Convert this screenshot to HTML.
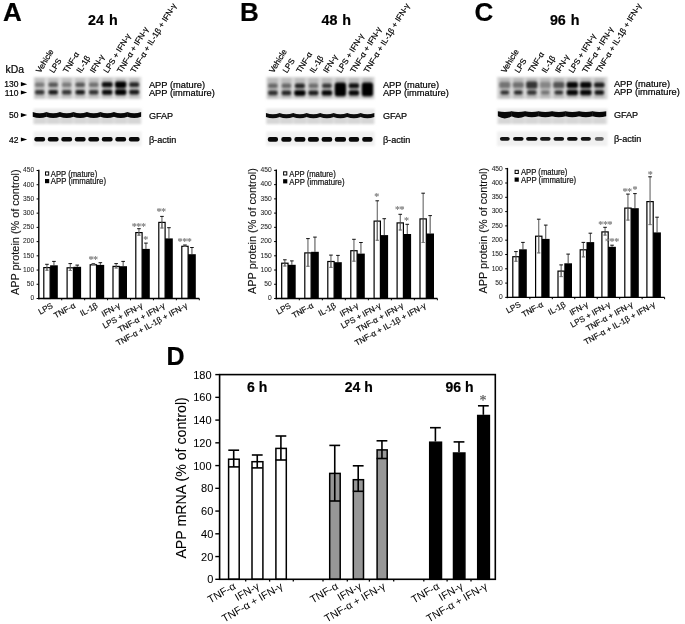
<!DOCTYPE html>
<html><head><meta charset="utf-8"><title>APP figure</title>
<style>
html,body{margin:0;padding:0;background:#fff;}
body{width:685px;height:624px;overflow:hidden;}
svg{display:block;}
</style></head><body>
<svg width="685" height="624" viewBox="0 0 685 624" font-family="Liberation Sans, Arial, Helvetica, sans-serif">
<defs>
<filter id="bl1" x="-20%" y="-50%" width="140%" height="200%"><feGaussianBlur stdDeviation="0.9"/></filter>
<filter id="bl2" x="-10%" y="-50%" width="120%" height="200%"><feGaussianBlur stdDeviation="1.3"/></filter>
<filter id="bl08" x="-20%" y="-20%" width="140%" height="140%"><feGaussianBlur stdDeviation="1.0"/></filter>
<filter id="bl06" x="-20%" y="-20%" width="140%" height="140%"><feGaussianBlur stdDeviation="0.6"/></filter>
</defs>
<rect width="685" height="624" fill="#fff"/>
<text x="40.30" y="73.60" font-size="8.1" transform="rotate(-58.5 40.30 73.60)" stroke="#000" stroke-width="0.2">Vehicle</text>
<text x="53.80" y="73.60" font-size="8.1" transform="rotate(-58.5 53.80 73.60)" stroke="#000" stroke-width="0.2">LPS</text>
<text x="67.30" y="73.60" font-size="8.1" transform="rotate(-58.5 67.30 73.60)" stroke="#000" stroke-width="0.2">TNF-&#945;</text>
<text x="80.80" y="73.60" font-size="8.1" transform="rotate(-58.5 80.80 73.60)" stroke="#000" stroke-width="0.2">IL-1&#946;</text>
<text x="94.30" y="73.60" font-size="8.1" transform="rotate(-58.5 94.30 73.60)" stroke="#000" stroke-width="0.2">IFN-&#947;</text>
<text x="107.80" y="73.60" font-size="8.1" transform="rotate(-58.5 107.80 73.60)" stroke="#000" stroke-width="0.2">LPS + IFN-&#947;</text>
<text x="121.30" y="73.60" font-size="8.1" transform="rotate(-58.5 121.30 73.60)" stroke="#000" stroke-width="0.2">TNF-&#945; + IFN-&#947;</text>
<text x="134.80" y="73.60" font-size="8.1" transform="rotate(-58.5 134.80 73.60)" stroke="#000" stroke-width="0.2">TNF-&#945; + IL-1&#946; + IFN-&#947;</text>
<g filter="url(#bl08)">
<rect x="33.60" y="76.90" width="107.90" height="22.20" fill="#dedede"/>
<rect x="33.60" y="108.60" width="107.90" height="15.60" fill="#e8e8e8"/>
<rect x="33.60" y="131.50" width="107.90" height="14.50" fill="#f0f0f0"/>
</g>
<g filter="url(#bl1)">
<rect x="34.80" y="78.00" width="9.80" height="20.30" fill="#000" opacity="0.13"/>
<rect x="33.40" y="117.50" width="12.60" height="6.50" fill="#000" opacity="0.08"/>
<rect x="48.30" y="78.00" width="9.80" height="20.30" fill="#000" opacity="0.13"/>
<rect x="46.90" y="117.50" width="12.60" height="6.50" fill="#000" opacity="0.08"/>
<rect x="61.80" y="78.00" width="9.80" height="20.30" fill="#000" opacity="0.13"/>
<rect x="60.40" y="117.50" width="12.60" height="6.50" fill="#000" opacity="0.08"/>
<rect x="75.30" y="78.00" width="9.80" height="20.30" fill="#000" opacity="0.13"/>
<rect x="73.90" y="117.50" width="12.60" height="6.50" fill="#000" opacity="0.08"/>
<rect x="88.80" y="78.00" width="9.80" height="20.30" fill="#000" opacity="0.13"/>
<rect x="87.40" y="117.50" width="12.60" height="6.50" fill="#000" opacity="0.08"/>
<rect x="102.30" y="78.00" width="9.80" height="20.30" fill="#000" opacity="0.13"/>
<rect x="100.90" y="117.50" width="12.60" height="6.50" fill="#000" opacity="0.08"/>
<rect x="115.80" y="78.00" width="9.80" height="20.30" fill="#000" opacity="0.13"/>
<rect x="114.40" y="117.50" width="12.60" height="6.50" fill="#000" opacity="0.08"/>
<rect x="129.30" y="78.00" width="9.80" height="20.30" fill="#000" opacity="0.13"/>
<rect x="127.90" y="117.50" width="12.60" height="6.50" fill="#000" opacity="0.08"/>
</g>
<g filter="url(#bl08)">
<rect x="35.00" y="82.40" width="9.40" height="4.60" rx="1.8" fill="#000" opacity="0.36"/>
<rect x="35.00" y="89.90" width="9.40" height="4.60" rx="1.8" fill="#000" opacity="0.72"/>
<rect x="48.50" y="82.40" width="9.40" height="4.60" rx="1.8" fill="#000" opacity="0.55"/>
<rect x="48.50" y="89.90" width="9.40" height="4.60" rx="1.8" fill="#000" opacity="0.86"/>
<rect x="62.00" y="82.40" width="9.40" height="4.60" rx="1.8" fill="#000" opacity="0.36"/>
<rect x="62.00" y="89.90" width="9.40" height="4.60" rx="1.8" fill="#000" opacity="0.72"/>
<rect x="75.50" y="82.40" width="9.40" height="4.60" rx="1.8" fill="#000" opacity="0.55"/>
<rect x="75.50" y="89.90" width="9.40" height="4.60" rx="1.8" fill="#000" opacity="0.86"/>
<rect x="89.00" y="82.40" width="9.40" height="4.60" rx="1.8" fill="#000" opacity="0.42"/>
<rect x="89.00" y="89.90" width="9.40" height="4.60" rx="1.8" fill="#000" opacity="0.74"/>
<rect x="101.80" y="82.06" width="10.81" height="5.29" rx="1.8" fill="#000" opacity="0.92"/>
<rect x="102.03" y="89.67" width="10.34" height="5.06" rx="1.8" fill="#000" opacity="0.95"/>
<rect x="115.06" y="81.48" width="11.28" height="6.44" rx="1.8" fill="#000" opacity="1.00"/>
<rect x="115.06" y="89.33" width="11.28" height="5.75" rx="1.8" fill="#000" opacity="1.00"/>
<rect x="129.26" y="82.28" width="9.87" height="4.83" rx="1.8" fill="#000" opacity="0.80"/>
<rect x="129.26" y="89.78" width="9.87" height="4.83" rx="1.8" fill="#000" opacity="0.88"/>
</g>
<g filter="url(#bl06)">
<path d="M32.75,112.10 Q39.70,114.50 46.65,112.10 L46.65,116.70 Q39.70,119.10 32.75,116.70 Z" fill="#000" opacity="0.97"/>
<rect x="34.30" y="137.10" width="10.80" height="4.40" rx="2" fill="#000" opacity="0.97"/>
<path d="M46.25,112.10 Q53.20,114.50 60.15,112.10 L60.15,116.70 Q53.20,119.10 46.25,116.70 Z" fill="#000" opacity="0.97"/>
<rect x="47.80" y="137.10" width="10.80" height="4.40" rx="2" fill="#000" opacity="0.97"/>
<path d="M59.75,112.10 Q66.70,114.50 73.65,112.10 L73.65,116.70 Q66.70,119.10 59.75,116.70 Z" fill="#000" opacity="0.97"/>
<rect x="61.30" y="137.10" width="10.80" height="4.40" rx="2" fill="#000" opacity="0.97"/>
<path d="M73.25,112.10 Q80.20,114.50 87.15,112.10 L87.15,116.70 Q80.20,119.10 73.25,116.70 Z" fill="#000" opacity="0.97"/>
<rect x="74.80" y="137.10" width="10.80" height="4.40" rx="2" fill="#000" opacity="0.97"/>
<path d="M86.75,112.10 Q93.70,114.50 100.65,112.10 L100.65,116.70 Q93.70,119.10 86.75,116.70 Z" fill="#000" opacity="0.97"/>
<rect x="88.30" y="137.10" width="10.80" height="4.40" rx="2" fill="#000" opacity="0.97"/>
<path d="M100.25,112.10 Q107.20,114.50 114.15,112.10 L114.15,116.70 Q107.20,119.10 100.25,116.70 Z" fill="#000" opacity="0.97"/>
<rect x="101.80" y="137.10" width="10.80" height="4.40" rx="2" fill="#000" opacity="0.97"/>
<path d="M113.75,112.10 Q120.70,114.50 127.65,112.10 L127.65,116.70 Q120.70,119.10 113.75,116.70 Z" fill="#000" opacity="0.97"/>
<rect x="115.30" y="137.10" width="10.80" height="4.40" rx="2" fill="#000" opacity="0.97"/>
<path d="M127.25,112.10 Q134.20,114.50 141.15,112.10 L141.15,116.70 Q134.20,119.10 127.25,116.70 Z" fill="#000" opacity="0.97"/>
<rect x="128.80" y="137.10" width="10.80" height="4.40" rx="2" fill="#000" opacity="0.97"/>
</g>
<text x="148.90" y="87.50" font-size="9.3" stroke="#000" stroke-width="0.2">APP (mature)</text>
<text x="148.90" y="96.20" font-size="9.3" stroke="#000" stroke-width="0.2">APP (immature)</text>
<text x="148.90" y="119.00" font-size="9.1" stroke="#000" stroke-width="0.2">GFAP</text>
<text x="148.90" y="142.60" font-size="9.1" stroke="#000" stroke-width="0.2">&#946;-actin</text>
<text x="3.00" y="20.80" font-size="26" font-weight="bold" stroke="#000" stroke-width="0.2">A</text>
<text x="102.90" y="24.50" font-size="14.3" font-weight="bold" text-anchor="middle" word-spacing="1" stroke="#000" stroke-width="0.2">24 h</text>
<text x="273.50" y="73.60" font-size="8.1" transform="rotate(-58.5 273.50 73.60)" stroke="#000" stroke-width="0.2">Vehicle</text>
<text x="287.00" y="73.60" font-size="8.1" transform="rotate(-58.5 287.00 73.60)" stroke="#000" stroke-width="0.2">LPS</text>
<text x="300.50" y="73.60" font-size="8.1" transform="rotate(-58.5 300.50 73.60)" stroke="#000" stroke-width="0.2">TNF-&#945;</text>
<text x="314.00" y="73.60" font-size="8.1" transform="rotate(-58.5 314.00 73.60)" stroke="#000" stroke-width="0.2">IL-1&#946;</text>
<text x="327.50" y="73.60" font-size="8.1" transform="rotate(-58.5 327.50 73.60)" stroke="#000" stroke-width="0.2">IFN-&#947;</text>
<text x="341.00" y="73.60" font-size="8.1" transform="rotate(-58.5 341.00 73.60)" stroke="#000" stroke-width="0.2">LPS + IFN-&#947;</text>
<text x="354.50" y="73.60" font-size="8.1" transform="rotate(-58.5 354.50 73.60)" stroke="#000" stroke-width="0.2">TNF-&#945; + IFN-&#947;</text>
<text x="368.00" y="73.60" font-size="8.1" transform="rotate(-58.5 368.00 73.60)" stroke="#000" stroke-width="0.2">TNF-&#945; + IL-1&#946; + IFN-&#947;</text>
<g filter="url(#bl08)">
<rect x="266.20" y="76.90" width="108.50" height="22.20" fill="#d8d8d8"/>
<rect x="266.20" y="108.60" width="108.50" height="15.60" fill="#e8e8e8"/>
<rect x="266.20" y="131.50" width="108.50" height="14.50" fill="#f0f0f0"/>
</g>
<g filter="url(#bl1)">
<rect x="268.00" y="78.00" width="9.80" height="20.30" fill="#000" opacity="0.13"/>
<rect x="266.60" y="117.50" width="12.60" height="6.50" fill="#000" opacity="0.08"/>
<rect x="281.50" y="78.00" width="9.80" height="20.30" fill="#000" opacity="0.13"/>
<rect x="280.10" y="117.50" width="12.60" height="6.50" fill="#000" opacity="0.08"/>
<rect x="295.00" y="78.00" width="9.80" height="20.30" fill="#000" opacity="0.13"/>
<rect x="293.60" y="117.50" width="12.60" height="6.50" fill="#000" opacity="0.08"/>
<rect x="308.50" y="78.00" width="9.80" height="20.30" fill="#000" opacity="0.13"/>
<rect x="307.10" y="117.50" width="12.60" height="6.50" fill="#000" opacity="0.08"/>
<rect x="322.00" y="78.00" width="9.80" height="20.30" fill="#000" opacity="0.13"/>
<rect x="320.60" y="117.50" width="12.60" height="6.50" fill="#000" opacity="0.08"/>
<rect x="335.50" y="78.00" width="9.80" height="20.30" fill="#000" opacity="0.13"/>
<rect x="334.10" y="117.50" width="12.60" height="6.50" fill="#000" opacity="0.08"/>
<rect x="349.00" y="78.00" width="9.80" height="20.30" fill="#000" opacity="0.13"/>
<rect x="347.60" y="117.50" width="12.60" height="6.50" fill="#000" opacity="0.08"/>
<rect x="362.50" y="78.00" width="9.80" height="20.30" fill="#000" opacity="0.13"/>
<rect x="361.10" y="117.50" width="12.60" height="6.50" fill="#000" opacity="0.08"/>
</g>
<g filter="url(#bl08)">
<rect x="268.20" y="83.50" width="9.40" height="4.60" rx="1.8" fill="#000" opacity="0.45"/>
<rect x="268.20" y="90.60" width="9.40" height="4.60" rx="1.8" fill="#000" opacity="0.75"/>
<rect x="281.70" y="83.50" width="9.40" height="4.60" rx="1.8" fill="#000" opacity="0.45"/>
<rect x="281.70" y="90.60" width="9.40" height="4.60" rx="1.8" fill="#000" opacity="0.80"/>
<rect x="294.96" y="83.38" width="9.87" height="4.83" rx="1.8" fill="#000" opacity="0.80"/>
<rect x="294.26" y="90.14" width="11.28" height="5.52" rx="1.8" fill="#000" opacity="1.00"/>
<rect x="308.70" y="83.50" width="9.40" height="4.60" rx="1.8" fill="#000" opacity="0.42"/>
<rect x="308.46" y="90.48" width="9.87" height="4.83" rx="1.8" fill="#000" opacity="0.85"/>
<rect x="322.20" y="83.50" width="9.40" height="4.60" rx="1.8" fill="#000" opacity="0.70"/>
<rect x="321.73" y="90.37" width="10.34" height="5.06" rx="1.8" fill="#000" opacity="0.97"/>
<rect x="334.76" y="82.40" width="11.28" height="13.90" rx="2.5" fill="#000" opacity="1.00"/>
<rect x="348.73" y="83.27" width="10.34" height="5.06" rx="1.8" fill="#000" opacity="0.92"/>
<rect x="348.73" y="90.37" width="10.34" height="5.06" rx="1.8" fill="#000" opacity="0.97"/>
<rect x="361.76" y="82.40" width="11.28" height="13.90" rx="2.5" fill="#000" opacity="1.00"/>
</g>
<g filter="url(#bl06)">
<path d="M265.95,113.00 Q272.90,115.40 279.85,113.00 L279.85,117.10 Q272.90,119.50 265.95,117.10 Z" fill="#000" opacity="0.95"/>
<rect x="267.80" y="137.00" width="10.20" height="4.80" rx="2" fill="#000" opacity="0.97"/>
<path d="M279.45,113.00 Q286.40,115.40 293.35,113.00 L293.35,117.10 Q286.40,119.50 279.45,117.10 Z" fill="#000" opacity="0.95"/>
<rect x="281.30" y="137.00" width="10.20" height="4.80" rx="2" fill="#000" opacity="0.97"/>
<path d="M292.95,113.00 Q299.90,115.40 306.85,113.00 L306.85,117.10 Q299.90,119.50 292.95,117.10 Z" fill="#000" opacity="0.95"/>
<rect x="294.40" y="137.00" width="11.00" height="4.80" rx="2" fill="#000" opacity="0.97"/>
<path d="M306.45,113.00 Q313.40,115.40 320.35,113.00 L320.35,117.10 Q313.40,119.50 306.45,117.10 Z" fill="#000" opacity="0.95"/>
<rect x="307.90" y="137.00" width="11.00" height="4.80" rx="2" fill="#000" opacity="0.97"/>
<path d="M319.95,113.00 Q326.90,115.40 333.85,113.00 L333.85,117.10 Q326.90,119.50 319.95,117.10 Z" fill="#000" opacity="0.95"/>
<rect x="321.60" y="137.00" width="10.60" height="4.80" rx="2" fill="#000" opacity="0.97"/>
<path d="M333.45,113.00 Q340.40,115.40 347.35,113.00 L347.35,117.10 Q340.40,119.50 333.45,117.10 Z" fill="#000" opacity="0.95"/>
<rect x="334.80" y="137.00" width="11.20" height="4.80" rx="2" fill="#000" opacity="0.97"/>
<path d="M346.95,113.00 Q353.90,115.40 360.85,113.00 L360.85,117.10 Q353.90,119.50 346.95,117.10 Z" fill="#000" opacity="0.95"/>
<rect x="348.70" y="137.00" width="10.40" height="4.80" rx="2" fill="#000" opacity="0.97"/>
<path d="M360.45,113.00 Q367.40,115.40 374.35,113.00 L374.35,117.10 Q367.40,119.50 360.45,117.10 Z" fill="#000" opacity="0.95"/>
<rect x="362.20" y="137.00" width="10.40" height="4.80" rx="2" fill="#000" opacity="0.97"/>
</g>
<text x="382.90" y="87.50" font-size="9.3" stroke="#000" stroke-width="0.2">APP (mature)</text>
<text x="382.90" y="96.20" font-size="9.3" stroke="#000" stroke-width="0.2">APP (immature)</text>
<text x="382.90" y="119.00" font-size="9.1" stroke="#000" stroke-width="0.2">GFAP</text>
<text x="382.90" y="142.60" font-size="9.1" stroke="#000" stroke-width="0.2">&#946;-actin</text>
<text x="240.00" y="20.80" font-size="26" font-weight="bold" stroke="#000" stroke-width="0.2">B</text>
<text x="336.30" y="24.50" font-size="14.3" font-weight="bold" text-anchor="middle" word-spacing="1" stroke="#000" stroke-width="0.2">48 h</text>
<text x="505.40" y="73.60" font-size="8.1" transform="rotate(-58.5 505.40 73.60)" stroke="#000" stroke-width="0.2">Vehicle</text>
<text x="518.90" y="73.60" font-size="8.1" transform="rotate(-58.5 518.90 73.60)" stroke="#000" stroke-width="0.2">LPS</text>
<text x="532.40" y="73.60" font-size="8.1" transform="rotate(-58.5 532.40 73.60)" stroke="#000" stroke-width="0.2">TNF-&#945;</text>
<text x="545.90" y="73.60" font-size="8.1" transform="rotate(-58.5 545.90 73.60)" stroke="#000" stroke-width="0.2">IL-1&#946;</text>
<text x="559.40" y="73.60" font-size="8.1" transform="rotate(-58.5 559.40 73.60)" stroke="#000" stroke-width="0.2">IFN-&#947;</text>
<text x="572.90" y="73.60" font-size="8.1" transform="rotate(-58.5 572.90 73.60)" stroke="#000" stroke-width="0.2">LPS + IFN-&#947;</text>
<text x="586.40" y="73.60" font-size="8.1" transform="rotate(-58.5 586.40 73.60)" stroke="#000" stroke-width="0.2">TNF-&#945; + IFN-&#947;</text>
<text x="599.90" y="73.60" font-size="8.1" transform="rotate(-58.5 599.90 73.60)" stroke="#000" stroke-width="0.2">TNF-&#945; + IL-1&#946; + IFN-&#947;</text>
<g filter="url(#bl08)">
<rect x="497.00" y="76.90" width="110.50" height="22.20" fill="#d6d6d6"/>
<rect x="497.00" y="108.60" width="110.50" height="15.60" fill="#e8e8e8"/>
<rect x="497.00" y="131.50" width="110.50" height="14.50" fill="#f0f0f0"/>
</g>
<g filter="url(#bl1)">
<rect x="499.90" y="78.00" width="9.80" height="20.30" fill="#000" opacity="0.13"/>
<rect x="498.50" y="117.50" width="12.60" height="6.50" fill="#000" opacity="0.08"/>
<rect x="513.40" y="78.00" width="9.80" height="20.30" fill="#000" opacity="0.13"/>
<rect x="512.00" y="117.50" width="12.60" height="6.50" fill="#000" opacity="0.08"/>
<rect x="526.90" y="78.00" width="9.80" height="20.30" fill="#000" opacity="0.13"/>
<rect x="525.50" y="117.50" width="12.60" height="6.50" fill="#000" opacity="0.08"/>
<rect x="540.40" y="78.00" width="9.80" height="20.30" fill="#000" opacity="0.13"/>
<rect x="539.00" y="117.50" width="12.60" height="6.50" fill="#000" opacity="0.08"/>
<rect x="553.90" y="78.00" width="9.80" height="20.30" fill="#000" opacity="0.13"/>
<rect x="552.50" y="117.50" width="12.60" height="6.50" fill="#000" opacity="0.08"/>
<rect x="567.40" y="78.00" width="9.80" height="20.30" fill="#000" opacity="0.13"/>
<rect x="566.00" y="117.50" width="12.60" height="6.50" fill="#000" opacity="0.08"/>
<rect x="580.90" y="78.00" width="9.80" height="20.30" fill="#000" opacity="0.13"/>
<rect x="579.50" y="117.50" width="12.60" height="6.50" fill="#000" opacity="0.08"/>
<rect x="594.40" y="78.00" width="9.80" height="20.30" fill="#000" opacity="0.13"/>
<rect x="593.00" y="117.50" width="12.60" height="6.50" fill="#000" opacity="0.08"/>
</g>
<g filter="url(#bl08)">
<rect x="499.16" y="82.01" width="11.28" height="5.98" rx="1.8" fill="#000" opacity="0.38"/>
<rect x="500.57" y="90.43" width="8.46" height="4.14" rx="1.8" fill="#000" opacity="0.75"/>
<rect x="512.66" y="82.24" width="11.28" height="5.52" rx="1.8" fill="#000" opacity="0.40"/>
<rect x="514.07" y="90.43" width="8.46" height="4.14" rx="1.8" fill="#000" opacity="0.80"/>
<rect x="526.16" y="81.55" width="11.28" height="6.90" rx="1.8" fill="#000" opacity="0.72"/>
<rect x="527.10" y="90.20" width="9.40" height="4.60" rx="1.8" fill="#000" opacity="0.72"/>
<rect x="539.66" y="82.01" width="11.28" height="5.98" rx="1.8" fill="#000" opacity="0.28"/>
<rect x="541.07" y="90.43" width="8.46" height="4.14" rx="1.8" fill="#000" opacity="0.38"/>
<rect x="553.16" y="82.01" width="11.28" height="5.98" rx="1.8" fill="#000" opacity="0.55"/>
<rect x="554.57" y="90.43" width="8.46" height="4.14" rx="1.8" fill="#000" opacity="0.75"/>
<rect x="566.66" y="82.01" width="11.28" height="5.98" rx="1.8" fill="#000" opacity="0.97"/>
<rect x="566.66" y="89.74" width="11.28" height="5.52" rx="1.8" fill="#000" opacity="0.97"/>
<rect x="580.16" y="82.01" width="11.28" height="5.98" rx="1.8" fill="#000" opacity="0.97"/>
<rect x="580.16" y="89.74" width="11.28" height="5.52" rx="1.8" fill="#000" opacity="0.97"/>
<rect x="594.13" y="82.47" width="10.34" height="5.06" rx="1.8" fill="#000" opacity="0.85"/>
<rect x="594.60" y="90.20" width="9.40" height="4.60" rx="1.8" fill="#000" opacity="0.90"/>
</g>
<g filter="url(#bl06)">
<path d="M497.85,111.30 Q504.80,112.90 511.75,111.30 L511.75,116.30 Q504.80,120.50 497.85,116.30 Z" fill="#000" opacity="0.97"/>
<rect x="499.90" y="136.90" width="9.80" height="3.80" rx="2" fill="#000" opacity="0.92"/>
<path d="M511.35,111.30 Q518.30,112.90 525.25,111.30 L525.25,116.30 Q518.30,119.70 511.35,116.30 Z" fill="#000" opacity="0.97"/>
<rect x="513.00" y="136.90" width="10.60" height="3.80" rx="2" fill="#000" opacity="0.95"/>
<path d="M524.85,111.30 Q531.80,112.90 538.75,111.30 L538.75,116.30 Q531.80,118.10 524.85,116.30 Z" fill="#000" opacity="0.97"/>
<rect x="526.10" y="136.90" width="11.40" height="3.80" rx="2" fill="#000" opacity="0.95"/>
<path d="M538.35,111.30 Q545.30,112.90 552.25,111.30 L552.25,116.30 Q545.30,118.10 538.35,116.30 Z" fill="#000" opacity="0.97"/>
<rect x="540.00" y="136.90" width="10.60" height="3.80" rx="2" fill="#000" opacity="0.90"/>
<path d="M551.85,111.30 Q558.80,112.90 565.75,111.30 L565.75,116.30 Q558.80,118.10 551.85,116.30 Z" fill="#000" opacity="0.97"/>
<rect x="553.50" y="136.90" width="10.60" height="3.80" rx="2" fill="#000" opacity="0.92"/>
<path d="M565.35,111.30 Q572.30,112.90 579.25,111.30 L579.25,116.30 Q572.30,118.10 565.35,116.30 Z" fill="#000" opacity="0.97"/>
<rect x="567.00" y="136.90" width="10.60" height="3.80" rx="2" fill="#000" opacity="0.95"/>
<path d="M578.85,111.30 Q585.80,112.90 592.75,111.30 L592.75,116.30 Q585.80,118.10 578.85,116.30 Z" fill="#000" opacity="0.97"/>
<rect x="580.70" y="136.90" width="10.20" height="3.80" rx="2" fill="#000" opacity="0.92"/>
<path d="M592.35,111.30 Q599.30,112.90 606.25,111.30 L606.25,116.30 Q599.30,118.10 592.35,116.30 Z" fill="#000" opacity="0.97"/>
<rect x="594.80" y="136.90" width="9.00" height="3.80" rx="2" fill="#000" opacity="0.60"/>
</g>
<text x="613.90" y="86.50" font-size="9.3" stroke="#000" stroke-width="0.2">APP (mature)</text>
<text x="613.90" y="95.20" font-size="9.3" stroke="#000" stroke-width="0.2">APP (immature)</text>
<text x="613.90" y="118.00" font-size="9.1" stroke="#000" stroke-width="0.2">GFAP</text>
<text x="613.90" y="141.60" font-size="9.1" stroke="#000" stroke-width="0.2">&#946;-actin</text>
<text x="474.40" y="20.80" font-size="26" font-weight="bold" stroke="#000" stroke-width="0.2">C</text>
<text x="564.70" y="24.50" font-size="14.3" font-weight="bold" text-anchor="middle" word-spacing="1" stroke="#000" stroke-width="0.2">96 h</text>
<text x="5.60" y="72.70" font-size="10.4" stroke="#000" stroke-width="0.2">kDa</text>
<text x="18.40" y="87.20" font-size="8.5" text-anchor="end" stroke="#000" stroke-width="0.2">130</text>
<polygon points="20.90,82.10 27.20,84.20 20.90,86.30" fill="#000"/>
<text x="18.40" y="95.50" font-size="8.5" text-anchor="end" stroke="#000" stroke-width="0.2">110</text>
<polygon points="20.90,90.40 27.20,92.50 20.90,94.60" fill="#000"/>
<text x="18.40" y="118.10" font-size="8.5" text-anchor="end" stroke="#000" stroke-width="0.2">50</text>
<polygon points="20.90,113.00 27.20,115.10 20.90,117.20" fill="#000"/>
<text x="18.40" y="142.50" font-size="8.5" text-anchor="end" stroke="#000" stroke-width="0.2">42</text>
<polygon points="20.90,137.40 27.20,139.50 20.90,141.60" fill="#000"/>
<line x1="46.95" y1="264.30" x2="46.95" y2="270.30" stroke="#444" stroke-width="0.9"/>
<line x1="45.15" y1="264.30" x2="48.75" y2="264.30" stroke="#111" stroke-width="1.0"/>
<line x1="45.45" y1="270.30" x2="48.45" y2="270.30" stroke="#777" stroke-width="0.9"/>
<rect x="43.80" y="267.60" width="6.30" height="30.90" fill="none" stroke="#000" stroke-width="1.2"/>
<line x1="46.95" y1="267.00" x2="46.95" y2="270.30" stroke="#666" stroke-width="0.9"/>
<line x1="45.45" y1="270.30" x2="48.45" y2="270.30" stroke="#777" stroke-width="0.9"/>
<line x1="53.95" y1="261.40" x2="53.95" y2="265.30" stroke="#333" stroke-width="0.9"/>
<line x1="52.15" y1="261.40" x2="55.75" y2="261.40" stroke="#111" stroke-width="1.0"/>
<rect x="50.10" y="265.30" width="7.70" height="33.20" fill="#000"/>
<line x1="70.25" y1="263.60" x2="70.25" y2="270.50" stroke="#444" stroke-width="0.9"/>
<line x1="68.45" y1="263.60" x2="72.05" y2="263.60" stroke="#111" stroke-width="1.0"/>
<line x1="68.75" y1="270.50" x2="71.75" y2="270.50" stroke="#777" stroke-width="0.9"/>
<rect x="67.10" y="267.80" width="6.30" height="30.70" fill="none" stroke="#000" stroke-width="1.2"/>
<line x1="70.25" y1="267.20" x2="70.25" y2="270.50" stroke="#666" stroke-width="0.9"/>
<line x1="68.75" y1="270.50" x2="71.75" y2="270.50" stroke="#777" stroke-width="0.9"/>
<line x1="77.25" y1="265.10" x2="77.25" y2="266.80" stroke="#333" stroke-width="0.9"/>
<line x1="75.45" y1="265.10" x2="79.05" y2="265.10" stroke="#111" stroke-width="1.0"/>
<rect x="73.40" y="266.80" width="7.70" height="31.70" fill="#000"/>
<line x1="93.35" y1="263.80" x2="93.35" y2="264.60" stroke="#444" stroke-width="0.9"/>
<line x1="91.55" y1="263.80" x2="95.15" y2="263.80" stroke="#111" stroke-width="1.0"/>
<line x1="91.85" y1="264.60" x2="94.85" y2="264.60" stroke="#777" stroke-width="0.9"/>
<rect x="90.20" y="264.80" width="6.30" height="33.70" fill="none" stroke="#000" stroke-width="1.2"/>
<line x1="93.35" y1="264.20" x2="93.35" y2="264.60" stroke="#666" stroke-width="0.9"/>
<line x1="91.85" y1="264.60" x2="94.85" y2="264.60" stroke="#777" stroke-width="0.9"/>
<line x1="100.35" y1="262.70" x2="100.35" y2="264.90" stroke="#333" stroke-width="0.9"/>
<line x1="98.55" y1="262.70" x2="102.15" y2="262.70" stroke="#111" stroke-width="1.0"/>
<rect x="96.50" y="264.90" width="7.70" height="33.60" fill="#000"/>
<line x1="116.15" y1="263.60" x2="116.15" y2="268.00" stroke="#444" stroke-width="0.9"/>
<line x1="114.35" y1="263.60" x2="117.95" y2="263.60" stroke="#111" stroke-width="1.0"/>
<line x1="114.65" y1="268.00" x2="117.65" y2="268.00" stroke="#777" stroke-width="0.9"/>
<rect x="113.00" y="266.40" width="6.30" height="32.10" fill="none" stroke="#000" stroke-width="1.2"/>
<line x1="116.15" y1="265.80" x2="116.15" y2="268.00" stroke="#666" stroke-width="0.9"/>
<line x1="114.65" y1="268.00" x2="117.65" y2="268.00" stroke="#777" stroke-width="0.9"/>
<line x1="123.15" y1="261.40" x2="123.15" y2="266.20" stroke="#333" stroke-width="0.9"/>
<line x1="121.35" y1="261.40" x2="124.95" y2="261.40" stroke="#111" stroke-width="1.0"/>
<rect x="119.30" y="266.20" width="7.70" height="32.30" fill="#000"/>
<line x1="138.95" y1="228.70" x2="138.95" y2="235.20" stroke="#444" stroke-width="0.9"/>
<line x1="137.15" y1="228.70" x2="140.75" y2="228.70" stroke="#111" stroke-width="1.0"/>
<line x1="137.45" y1="235.20" x2="140.45" y2="235.20" stroke="#777" stroke-width="0.9"/>
<rect x="135.80" y="232.60" width="6.30" height="65.90" fill="none" stroke="#000" stroke-width="1.2"/>
<line x1="138.95" y1="232.00" x2="138.95" y2="235.20" stroke="#666" stroke-width="0.9"/>
<line x1="137.45" y1="235.20" x2="140.45" y2="235.20" stroke="#777" stroke-width="0.9"/>
<line x1="145.95" y1="243.10" x2="145.95" y2="248.90" stroke="#333" stroke-width="0.9"/>
<line x1="144.15" y1="243.10" x2="147.75" y2="243.10" stroke="#111" stroke-width="1.0"/>
<rect x="142.10" y="248.90" width="7.70" height="49.60" fill="#000"/>
<line x1="161.95" y1="216.40" x2="161.95" y2="228.00" stroke="#444" stroke-width="0.9"/>
<line x1="160.15" y1="216.40" x2="163.75" y2="216.40" stroke="#111" stroke-width="1.0"/>
<line x1="160.45" y1="228.00" x2="163.45" y2="228.00" stroke="#777" stroke-width="0.9"/>
<rect x="158.80" y="222.40" width="6.30" height="76.10" fill="none" stroke="#000" stroke-width="1.2"/>
<line x1="161.95" y1="221.80" x2="161.95" y2="228.00" stroke="#666" stroke-width="0.9"/>
<line x1="160.45" y1="228.00" x2="163.45" y2="228.00" stroke="#777" stroke-width="0.9"/>
<line x1="168.95" y1="227.70" x2="168.95" y2="238.40" stroke="#333" stroke-width="0.9"/>
<line x1="167.15" y1="227.70" x2="170.75" y2="227.70" stroke="#111" stroke-width="1.0"/>
<rect x="165.10" y="238.40" width="7.70" height="60.10" fill="#000"/>
<line x1="184.95" y1="245.00" x2="184.95" y2="246.40" stroke="#444" stroke-width="0.9"/>
<line x1="183.15" y1="245.00" x2="186.75" y2="245.00" stroke="#111" stroke-width="1.0"/>
<line x1="183.45" y1="246.40" x2="186.45" y2="246.40" stroke="#777" stroke-width="0.9"/>
<rect x="181.80" y="246.30" width="6.30" height="52.20" fill="none" stroke="#000" stroke-width="1.2"/>
<line x1="184.95" y1="245.70" x2="184.95" y2="246.40" stroke="#666" stroke-width="0.9"/>
<line x1="183.45" y1="246.40" x2="186.45" y2="246.40" stroke="#777" stroke-width="0.9"/>
<line x1="191.95" y1="247.50" x2="191.95" y2="254.20" stroke="#333" stroke-width="0.9"/>
<line x1="190.15" y1="247.50" x2="193.75" y2="247.50" stroke="#111" stroke-width="1.0"/>
<rect x="188.10" y="254.20" width="7.70" height="44.30" fill="#000"/>
<line x1="38.80" y1="169.70" x2="38.80" y2="299.30" stroke="#000" stroke-width="1.4"/>
<line x1="38.10" y1="298.50" x2="199.30" y2="298.50" stroke="#000" stroke-width="1.4"/>
<line x1="36.60" y1="298.50" x2="38.80" y2="298.50" stroke="#000" stroke-width="1.0"/>
<text x="34.20" y="300.30" font-size="7.5" text-anchor="end" fill="#222" textLength="3.72" lengthAdjust="spacingAndGlyphs" stroke="#222" stroke-width="0.05">0</text>
<line x1="36.60" y1="284.28" x2="38.80" y2="284.28" stroke="#000" stroke-width="1.0"/>
<text x="34.20" y="286.08" font-size="7.5" text-anchor="end" fill="#222" textLength="7.44" lengthAdjust="spacingAndGlyphs" stroke="#222" stroke-width="0.05">50</text>
<line x1="36.60" y1="270.06" x2="38.80" y2="270.06" stroke="#000" stroke-width="1.0"/>
<text x="34.20" y="271.86" font-size="7.5" text-anchor="end" fill="#222" textLength="11.16" lengthAdjust="spacingAndGlyphs" stroke="#222" stroke-width="0.05">100</text>
<line x1="36.60" y1="255.83" x2="38.80" y2="255.83" stroke="#000" stroke-width="1.0"/>
<text x="34.20" y="257.63" font-size="7.5" text-anchor="end" fill="#222" textLength="11.16" lengthAdjust="spacingAndGlyphs" stroke="#222" stroke-width="0.05">150</text>
<line x1="36.60" y1="241.61" x2="38.80" y2="241.61" stroke="#000" stroke-width="1.0"/>
<text x="34.20" y="243.41" font-size="7.5" text-anchor="end" fill="#222" textLength="11.16" lengthAdjust="spacingAndGlyphs" stroke="#222" stroke-width="0.05">200</text>
<line x1="36.60" y1="227.39" x2="38.80" y2="227.39" stroke="#000" stroke-width="1.0"/>
<text x="34.20" y="229.19" font-size="7.5" text-anchor="end" fill="#222" textLength="11.16" lengthAdjust="spacingAndGlyphs" stroke="#222" stroke-width="0.05">250</text>
<line x1="36.60" y1="213.17" x2="38.80" y2="213.17" stroke="#000" stroke-width="1.0"/>
<text x="34.20" y="214.97" font-size="7.5" text-anchor="end" fill="#222" textLength="11.16" lengthAdjust="spacingAndGlyphs" stroke="#222" stroke-width="0.05">300</text>
<line x1="36.60" y1="198.94" x2="38.80" y2="198.94" stroke="#000" stroke-width="1.0"/>
<text x="34.20" y="200.74" font-size="7.5" text-anchor="end" fill="#222" textLength="11.16" lengthAdjust="spacingAndGlyphs" stroke="#222" stroke-width="0.05">350</text>
<line x1="36.60" y1="184.72" x2="38.80" y2="184.72" stroke="#000" stroke-width="1.0"/>
<text x="34.20" y="186.52" font-size="7.5" text-anchor="end" fill="#222" textLength="11.16" lengthAdjust="spacingAndGlyphs" stroke="#222" stroke-width="0.05">400</text>
<line x1="36.60" y1="170.50" x2="38.80" y2="170.50" stroke="#000" stroke-width="1.0"/>
<text x="34.20" y="172.30" font-size="7.5" text-anchor="end" fill="#222" textLength="11.16" lengthAdjust="spacingAndGlyphs" stroke="#222" stroke-width="0.05">450</text>
<line x1="61.73" y1="298.50" x2="61.73" y2="300.30" stroke="#000" stroke-width="1.0"/>
<line x1="84.66" y1="298.50" x2="84.66" y2="300.30" stroke="#000" stroke-width="1.0"/>
<line x1="107.59" y1="298.50" x2="107.59" y2="300.30" stroke="#000" stroke-width="1.0"/>
<line x1="130.51" y1="298.50" x2="130.51" y2="300.30" stroke="#000" stroke-width="1.0"/>
<line x1="153.44" y1="298.50" x2="153.44" y2="300.30" stroke="#000" stroke-width="1.0"/>
<line x1="176.37" y1="298.50" x2="176.37" y2="300.30" stroke="#000" stroke-width="1.0"/>
<line x1="199.30" y1="298.50" x2="199.30" y2="300.30" stroke="#000" stroke-width="1.0"/>
<text x="53.60" y="307.30" font-size="8.1" text-anchor="end" fill="#111" transform="rotate(-29 53.60 307.30)" stroke="#111" stroke-width="0.2">LPS</text>
<text x="76.00" y="307.30" font-size="8.1" text-anchor="end" fill="#111" transform="rotate(-29 76.00 307.30)" stroke="#111" stroke-width="0.2">TNF-&#945;</text>
<text x="98.40" y="307.30" font-size="8.1" text-anchor="end" fill="#111" transform="rotate(-29 98.40 307.30)" stroke="#111" stroke-width="0.2">IL-1&#946;</text>
<text x="120.80" y="307.30" font-size="8.1" text-anchor="end" fill="#111" transform="rotate(-29 120.80 307.30)" stroke="#111" stroke-width="0.2">IFN-&#947;</text>
<text x="143.20" y="307.30" font-size="8.1" text-anchor="end" fill="#111" transform="rotate(-29 143.20 307.30)" stroke="#111" stroke-width="0.2">LPS + IFN-&#947;</text>
<text x="165.60" y="307.30" font-size="8.1" text-anchor="end" fill="#111" transform="rotate(-29 165.60 307.30)" stroke="#111" stroke-width="0.2">TNF-&#945; + IFN-&#947;</text>
<text x="188.00" y="307.30" font-size="8.1" text-anchor="end" fill="#111" transform="rotate(-29 188.00 307.30)" stroke="#111" stroke-width="0.2">TNF-&#945; + IL-1&#946; + IFN-&#947;</text>
<text x="93.00" y="263.20" font-size="10.0" text-anchor="middle" fill="#7a7a7a" font-family="Liberation Serif, Times New Roman, serif" letter-spacing="-0.4" stroke="#7a7a7a" stroke-width="0.15">**</text>
<text x="138.60" y="229.80" font-size="10.0" text-anchor="middle" fill="#7a7a7a" font-family="Liberation Serif, Times New Roman, serif" letter-spacing="-0.4" stroke="#7a7a7a" stroke-width="0.15">***</text>
<text x="145.50" y="242.70" font-size="10.0" text-anchor="middle" fill="#7a7a7a" font-family="Liberation Serif, Times New Roman, serif" letter-spacing="-0.4" stroke="#7a7a7a" stroke-width="0.15">*</text>
<text x="161.00" y="214.90" font-size="10.0" text-anchor="middle" fill="#7a7a7a" font-family="Liberation Serif, Times New Roman, serif" letter-spacing="-0.4" stroke="#7a7a7a" stroke-width="0.15">**</text>
<text x="184.50" y="244.90" font-size="10.0" text-anchor="middle" fill="#7a7a7a" font-family="Liberation Serif, Times New Roman, serif" letter-spacing="-0.4" stroke="#7a7a7a" stroke-width="0.15">***</text>
<rect x="45.50" y="171.90" width="3.20" height="3.20" fill="#fff" stroke="#000" stroke-width="1.0"/>
<rect x="45.00" y="179.00" width="4.20" height="4.20" fill="#000"/>
<text x="50.80" y="176.70" font-size="8.2" fill="#111" textLength="46.4" lengthAdjust="spacingAndGlyphs" stroke="#111" stroke-width="0.2">APP (mature)</text>
<text x="50.80" y="184.30" font-size="8.2" fill="#111" textLength="55.2" lengthAdjust="spacingAndGlyphs" stroke="#111" stroke-width="0.2">APP (immature)</text>
<text x="19.00" y="232.20" font-size="10.9" text-anchor="middle" fill="#111" transform="rotate(-90 19.00 232.20)" stroke="#111" stroke-width="0.1">APP protein (% of control)</text>
<line x1="284.85" y1="259.80" x2="284.85" y2="266.00" stroke="#444" stroke-width="0.9"/>
<line x1="283.05" y1="259.80" x2="286.65" y2="259.80" stroke="#111" stroke-width="1.0"/>
<line x1="283.35" y1="266.00" x2="286.35" y2="266.00" stroke="#777" stroke-width="0.9"/>
<rect x="281.70" y="263.20" width="6.30" height="35.30" fill="none" stroke="#000" stroke-width="1.2"/>
<line x1="284.85" y1="262.60" x2="284.85" y2="266.00" stroke="#666" stroke-width="0.9"/>
<line x1="283.35" y1="266.00" x2="286.35" y2="266.00" stroke="#777" stroke-width="0.9"/>
<line x1="291.85" y1="260.90" x2="291.85" y2="264.80" stroke="#333" stroke-width="0.9"/>
<line x1="290.05" y1="260.90" x2="293.65" y2="260.90" stroke="#111" stroke-width="1.0"/>
<rect x="288.00" y="264.80" width="7.70" height="33.70" fill="#000"/>
<line x1="307.95" y1="238.60" x2="307.95" y2="266.30" stroke="#444" stroke-width="0.9"/>
<line x1="306.15" y1="238.60" x2="309.75" y2="238.60" stroke="#111" stroke-width="1.0"/>
<line x1="306.45" y1="266.30" x2="309.45" y2="266.30" stroke="#777" stroke-width="0.9"/>
<rect x="304.80" y="252.90" width="6.30" height="45.60" fill="none" stroke="#000" stroke-width="1.2"/>
<line x1="307.95" y1="252.30" x2="307.95" y2="266.30" stroke="#666" stroke-width="0.9"/>
<line x1="306.45" y1="266.30" x2="309.45" y2="266.30" stroke="#777" stroke-width="0.9"/>
<line x1="314.95" y1="237.10" x2="314.95" y2="251.80" stroke="#333" stroke-width="0.9"/>
<line x1="313.15" y1="237.10" x2="316.75" y2="237.10" stroke="#111" stroke-width="1.0"/>
<rect x="311.10" y="251.80" width="7.70" height="46.70" fill="#000"/>
<line x1="330.95" y1="255.10" x2="330.95" y2="267.40" stroke="#444" stroke-width="0.9"/>
<line x1="329.15" y1="255.10" x2="332.75" y2="255.10" stroke="#111" stroke-width="1.0"/>
<line x1="329.45" y1="267.40" x2="332.45" y2="267.40" stroke="#777" stroke-width="0.9"/>
<rect x="327.80" y="261.50" width="6.30" height="37.00" fill="none" stroke="#000" stroke-width="1.2"/>
<line x1="330.95" y1="260.90" x2="330.95" y2="267.40" stroke="#666" stroke-width="0.9"/>
<line x1="329.45" y1="267.40" x2="332.45" y2="267.40" stroke="#777" stroke-width="0.9"/>
<line x1="337.95" y1="255.40" x2="337.95" y2="262.20" stroke="#333" stroke-width="0.9"/>
<line x1="336.15" y1="255.40" x2="339.75" y2="255.40" stroke="#111" stroke-width="1.0"/>
<rect x="334.10" y="262.20" width="7.70" height="36.30" fill="#000"/>
<line x1="353.95" y1="239.30" x2="353.95" y2="261.20" stroke="#444" stroke-width="0.9"/>
<line x1="352.15" y1="239.30" x2="355.75" y2="239.30" stroke="#111" stroke-width="1.0"/>
<line x1="352.45" y1="261.20" x2="355.45" y2="261.20" stroke="#777" stroke-width="0.9"/>
<rect x="350.80" y="250.70" width="6.30" height="47.80" fill="none" stroke="#000" stroke-width="1.2"/>
<line x1="353.95" y1="250.10" x2="353.95" y2="261.20" stroke="#666" stroke-width="0.9"/>
<line x1="352.45" y1="261.20" x2="355.45" y2="261.20" stroke="#777" stroke-width="0.9"/>
<line x1="360.95" y1="242.50" x2="360.95" y2="253.60" stroke="#333" stroke-width="0.9"/>
<line x1="359.15" y1="242.50" x2="362.75" y2="242.50" stroke="#111" stroke-width="1.0"/>
<rect x="357.10" y="253.60" width="7.70" height="44.90" fill="#000"/>
<line x1="377.25" y1="200.80" x2="377.25" y2="240.30" stroke="#444" stroke-width="0.9"/>
<line x1="375.45" y1="200.80" x2="379.05" y2="200.80" stroke="#111" stroke-width="1.0"/>
<line x1="375.75" y1="240.30" x2="378.75" y2="240.30" stroke="#777" stroke-width="0.9"/>
<rect x="374.10" y="221.10" width="6.30" height="77.40" fill="none" stroke="#000" stroke-width="1.2"/>
<line x1="377.25" y1="220.50" x2="377.25" y2="240.30" stroke="#666" stroke-width="0.9"/>
<line x1="375.75" y1="240.30" x2="378.75" y2="240.30" stroke="#777" stroke-width="0.9"/>
<line x1="384.25" y1="218.70" x2="384.25" y2="235.10" stroke="#333" stroke-width="0.9"/>
<line x1="382.45" y1="218.70" x2="386.05" y2="218.70" stroke="#111" stroke-width="1.0"/>
<rect x="380.40" y="235.10" width="7.70" height="63.40" fill="#000"/>
<line x1="400.25" y1="214.30" x2="400.25" y2="230.00" stroke="#444" stroke-width="0.9"/>
<line x1="398.45" y1="214.30" x2="402.05" y2="214.30" stroke="#111" stroke-width="1.0"/>
<line x1="398.75" y1="230.00" x2="401.75" y2="230.00" stroke="#777" stroke-width="0.9"/>
<rect x="397.10" y="222.90" width="6.30" height="75.60" fill="none" stroke="#000" stroke-width="1.2"/>
<line x1="400.25" y1="222.30" x2="400.25" y2="230.00" stroke="#666" stroke-width="0.9"/>
<line x1="398.75" y1="230.00" x2="401.75" y2="230.00" stroke="#777" stroke-width="0.9"/>
<line x1="407.25" y1="224.30" x2="407.25" y2="234.00" stroke="#333" stroke-width="0.9"/>
<line x1="405.45" y1="224.30" x2="409.05" y2="224.30" stroke="#111" stroke-width="1.0"/>
<rect x="403.40" y="234.00" width="7.70" height="64.50" fill="#000"/>
<line x1="423.15" y1="193.20" x2="423.15" y2="242.50" stroke="#444" stroke-width="0.9"/>
<line x1="421.35" y1="193.20" x2="424.95" y2="193.20" stroke="#111" stroke-width="1.0"/>
<line x1="421.65" y1="242.50" x2="424.65" y2="242.50" stroke="#777" stroke-width="0.9"/>
<rect x="420.00" y="218.90" width="6.30" height="79.60" fill="none" stroke="#000" stroke-width="1.2"/>
<line x1="423.15" y1="218.30" x2="423.15" y2="242.50" stroke="#666" stroke-width="0.9"/>
<line x1="421.65" y1="242.50" x2="424.65" y2="242.50" stroke="#777" stroke-width="0.9"/>
<line x1="430.15" y1="215.60" x2="430.15" y2="233.50" stroke="#333" stroke-width="0.9"/>
<line x1="428.35" y1="215.60" x2="431.95" y2="215.60" stroke="#111" stroke-width="1.0"/>
<rect x="426.30" y="233.50" width="7.70" height="65.00" fill="#000"/>
<line x1="276.30" y1="169.60" x2="276.30" y2="299.30" stroke="#000" stroke-width="1.4"/>
<line x1="275.60" y1="298.50" x2="437.40" y2="298.50" stroke="#000" stroke-width="1.4"/>
<line x1="274.10" y1="298.50" x2="276.30" y2="298.50" stroke="#000" stroke-width="1.0"/>
<text x="271.70" y="300.30" font-size="7.5" text-anchor="end" fill="#222" textLength="3.72" lengthAdjust="spacingAndGlyphs" stroke="#222" stroke-width="0.05">0</text>
<line x1="274.10" y1="284.27" x2="276.30" y2="284.27" stroke="#000" stroke-width="1.0"/>
<text x="271.70" y="286.07" font-size="7.5" text-anchor="end" fill="#222" textLength="7.44" lengthAdjust="spacingAndGlyphs" stroke="#222" stroke-width="0.05">50</text>
<line x1="274.10" y1="270.03" x2="276.30" y2="270.03" stroke="#000" stroke-width="1.0"/>
<text x="271.70" y="271.83" font-size="7.5" text-anchor="end" fill="#222" textLength="11.16" lengthAdjust="spacingAndGlyphs" stroke="#222" stroke-width="0.05">100</text>
<line x1="274.10" y1="255.80" x2="276.30" y2="255.80" stroke="#000" stroke-width="1.0"/>
<text x="271.70" y="257.60" font-size="7.5" text-anchor="end" fill="#222" textLength="11.16" lengthAdjust="spacingAndGlyphs" stroke="#222" stroke-width="0.05">150</text>
<line x1="274.10" y1="241.57" x2="276.30" y2="241.57" stroke="#000" stroke-width="1.0"/>
<text x="271.70" y="243.37" font-size="7.5" text-anchor="end" fill="#222" textLength="11.16" lengthAdjust="spacingAndGlyphs" stroke="#222" stroke-width="0.05">200</text>
<line x1="274.10" y1="227.33" x2="276.30" y2="227.33" stroke="#000" stroke-width="1.0"/>
<text x="271.70" y="229.13" font-size="7.5" text-anchor="end" fill="#222" textLength="11.16" lengthAdjust="spacingAndGlyphs" stroke="#222" stroke-width="0.05">250</text>
<line x1="274.10" y1="213.10" x2="276.30" y2="213.10" stroke="#000" stroke-width="1.0"/>
<text x="271.70" y="214.90" font-size="7.5" text-anchor="end" fill="#222" textLength="11.16" lengthAdjust="spacingAndGlyphs" stroke="#222" stroke-width="0.05">300</text>
<line x1="274.10" y1="198.87" x2="276.30" y2="198.87" stroke="#000" stroke-width="1.0"/>
<text x="271.70" y="200.67" font-size="7.5" text-anchor="end" fill="#222" textLength="11.16" lengthAdjust="spacingAndGlyphs" stroke="#222" stroke-width="0.05">350</text>
<line x1="274.10" y1="184.63" x2="276.30" y2="184.63" stroke="#000" stroke-width="1.0"/>
<text x="271.70" y="186.43" font-size="7.5" text-anchor="end" fill="#222" textLength="11.16" lengthAdjust="spacingAndGlyphs" stroke="#222" stroke-width="0.05">400</text>
<line x1="274.10" y1="170.40" x2="276.30" y2="170.40" stroke="#000" stroke-width="1.0"/>
<text x="271.70" y="172.20" font-size="7.5" text-anchor="end" fill="#222" textLength="11.16" lengthAdjust="spacingAndGlyphs" stroke="#222" stroke-width="0.05">450</text>
<line x1="299.31" y1="298.50" x2="299.31" y2="300.30" stroke="#000" stroke-width="1.0"/>
<line x1="322.33" y1="298.50" x2="322.33" y2="300.30" stroke="#000" stroke-width="1.0"/>
<line x1="345.34" y1="298.50" x2="345.34" y2="300.30" stroke="#000" stroke-width="1.0"/>
<line x1="368.36" y1="298.50" x2="368.36" y2="300.30" stroke="#000" stroke-width="1.0"/>
<line x1="391.37" y1="298.50" x2="391.37" y2="300.30" stroke="#000" stroke-width="1.0"/>
<line x1="414.39" y1="298.50" x2="414.39" y2="300.30" stroke="#000" stroke-width="1.0"/>
<line x1="437.40" y1="298.50" x2="437.40" y2="300.30" stroke="#000" stroke-width="1.0"/>
<text x="291.60" y="307.30" font-size="8.1" text-anchor="end" fill="#111" transform="rotate(-29 291.60 307.30)" stroke="#111" stroke-width="0.2">LPS</text>
<text x="314.10" y="307.30" font-size="8.1" text-anchor="end" fill="#111" transform="rotate(-29 314.10 307.30)" stroke="#111" stroke-width="0.2">TNF-&#945;</text>
<text x="336.60" y="307.30" font-size="8.1" text-anchor="end" fill="#111" transform="rotate(-29 336.60 307.30)" stroke="#111" stroke-width="0.2">IL-1&#946;</text>
<text x="359.10" y="307.30" font-size="8.1" text-anchor="end" fill="#111" transform="rotate(-29 359.10 307.30)" stroke="#111" stroke-width="0.2">IFN-&#947;</text>
<text x="381.60" y="307.30" font-size="8.1" text-anchor="end" fill="#111" transform="rotate(-29 381.60 307.30)" stroke="#111" stroke-width="0.2">LPS + IFN-&#947;</text>
<text x="404.10" y="307.30" font-size="8.1" text-anchor="end" fill="#111" transform="rotate(-29 404.10 307.30)" stroke="#111" stroke-width="0.2">TNF-&#945; + IFN-&#947;</text>
<text x="426.60" y="307.30" font-size="8.1" text-anchor="end" fill="#111" transform="rotate(-29 426.60 307.30)" stroke="#111" stroke-width="0.2">TNF-&#945; + IL-1&#946; + IFN-&#947;</text>
<text x="376.60" y="200.10" font-size="10.0" text-anchor="middle" fill="#7a7a7a" font-family="Liberation Serif, Times New Roman, serif" letter-spacing="-0.4" stroke="#7a7a7a" stroke-width="0.15">*</text>
<text x="399.50" y="212.90" font-size="10.0" text-anchor="middle" fill="#7a7a7a" font-family="Liberation Serif, Times New Roman, serif" letter-spacing="-0.4" stroke="#7a7a7a" stroke-width="0.15">**</text>
<text x="406.40" y="224.10" font-size="10.0" text-anchor="middle" fill="#7a7a7a" font-family="Liberation Serif, Times New Roman, serif" letter-spacing="-0.4" stroke="#7a7a7a" stroke-width="0.15">*</text>
<rect x="283.60" y="171.80" width="3.20" height="3.20" fill="#fff" stroke="#000" stroke-width="1.0"/>
<rect x="283.10" y="179.20" width="4.20" height="4.20" fill="#000"/>
<text x="289.30" y="176.60" font-size="8.2" fill="#111" textLength="46.4" lengthAdjust="spacingAndGlyphs" stroke="#111" stroke-width="0.2">APP (mature)</text>
<text x="289.30" y="184.50" font-size="8.2" fill="#111" textLength="55.2" lengthAdjust="spacingAndGlyphs" stroke="#111" stroke-width="0.2">APP (immature)</text>
<text x="256.50" y="231.05" font-size="10.9" text-anchor="middle" fill="#111" transform="rotate(-90 256.50 231.05)" stroke="#111" stroke-width="0.1">APP protein (% of control)</text>
<line x1="515.95" y1="251.60" x2="515.95" y2="261.30" stroke="#444" stroke-width="0.9"/>
<line x1="514.15" y1="251.60" x2="517.75" y2="251.60" stroke="#111" stroke-width="1.0"/>
<line x1="514.45" y1="261.30" x2="517.45" y2="261.30" stroke="#777" stroke-width="0.9"/>
<rect x="512.80" y="256.70" width="6.30" height="40.70" fill="none" stroke="#000" stroke-width="1.2"/>
<line x1="515.95" y1="256.10" x2="515.95" y2="261.30" stroke="#666" stroke-width="0.9"/>
<line x1="514.45" y1="261.30" x2="517.45" y2="261.30" stroke="#777" stroke-width="0.9"/>
<line x1="522.95" y1="242.40" x2="522.95" y2="249.30" stroke="#333" stroke-width="0.9"/>
<line x1="521.15" y1="242.40" x2="524.75" y2="242.40" stroke="#111" stroke-width="1.0"/>
<rect x="519.10" y="249.30" width="7.70" height="48.10" fill="#000"/>
<line x1="538.75" y1="219.20" x2="538.75" y2="252.90" stroke="#444" stroke-width="0.9"/>
<line x1="536.95" y1="219.20" x2="540.55" y2="219.20" stroke="#111" stroke-width="1.0"/>
<line x1="537.25" y1="252.90" x2="540.25" y2="252.90" stroke="#777" stroke-width="0.9"/>
<rect x="535.60" y="236.20" width="6.30" height="61.20" fill="none" stroke="#000" stroke-width="1.2"/>
<line x1="538.75" y1="235.60" x2="538.75" y2="252.90" stroke="#666" stroke-width="0.9"/>
<line x1="537.25" y1="252.90" x2="540.25" y2="252.90" stroke="#777" stroke-width="0.9"/>
<line x1="545.75" y1="225.10" x2="545.75" y2="238.90" stroke="#333" stroke-width="0.9"/>
<line x1="543.95" y1="225.10" x2="547.55" y2="225.10" stroke="#111" stroke-width="1.0"/>
<rect x="541.90" y="238.90" width="7.70" height="58.50" fill="#000"/>
<line x1="561.15" y1="264.90" x2="561.15" y2="276.60" stroke="#444" stroke-width="0.9"/>
<line x1="559.35" y1="264.90" x2="562.95" y2="264.90" stroke="#111" stroke-width="1.0"/>
<line x1="559.65" y1="276.60" x2="562.65" y2="276.60" stroke="#777" stroke-width="0.9"/>
<rect x="558.00" y="271.10" width="6.30" height="26.30" fill="none" stroke="#000" stroke-width="1.2"/>
<line x1="561.15" y1="270.50" x2="561.15" y2="276.60" stroke="#666" stroke-width="0.9"/>
<line x1="559.65" y1="276.60" x2="562.65" y2="276.60" stroke="#777" stroke-width="0.9"/>
<line x1="568.15" y1="254.10" x2="568.15" y2="263.30" stroke="#333" stroke-width="0.9"/>
<line x1="566.35" y1="254.10" x2="569.95" y2="254.10" stroke="#111" stroke-width="1.0"/>
<rect x="564.30" y="263.30" width="7.70" height="34.10" fill="#000"/>
<line x1="583.35" y1="242.40" x2="583.35" y2="256.90" stroke="#444" stroke-width="0.9"/>
<line x1="581.55" y1="242.40" x2="585.15" y2="242.40" stroke="#111" stroke-width="1.0"/>
<line x1="581.85" y1="256.90" x2="584.85" y2="256.90" stroke="#777" stroke-width="0.9"/>
<rect x="580.20" y="249.80" width="6.30" height="47.60" fill="none" stroke="#000" stroke-width="1.2"/>
<line x1="583.35" y1="249.20" x2="583.35" y2="256.90" stroke="#666" stroke-width="0.9"/>
<line x1="581.85" y1="256.90" x2="584.85" y2="256.90" stroke="#777" stroke-width="0.9"/>
<line x1="590.35" y1="233.20" x2="590.35" y2="242.10" stroke="#333" stroke-width="0.9"/>
<line x1="588.55" y1="233.20" x2="592.15" y2="233.20" stroke="#111" stroke-width="1.0"/>
<rect x="586.50" y="242.10" width="7.70" height="55.30" fill="#000"/>
<line x1="605.05" y1="227.30" x2="605.05" y2="235.10" stroke="#444" stroke-width="0.9"/>
<line x1="603.25" y1="227.30" x2="606.85" y2="227.30" stroke="#111" stroke-width="1.0"/>
<line x1="603.55" y1="235.10" x2="606.55" y2="235.10" stroke="#777" stroke-width="0.9"/>
<rect x="601.90" y="231.90" width="6.30" height="65.50" fill="none" stroke="#000" stroke-width="1.2"/>
<line x1="605.05" y1="231.30" x2="605.05" y2="235.10" stroke="#666" stroke-width="0.9"/>
<line x1="603.55" y1="235.10" x2="606.55" y2="235.10" stroke="#777" stroke-width="0.9"/>
<line x1="612.05" y1="245.20" x2="612.05" y2="246.80" stroke="#333" stroke-width="0.9"/>
<line x1="610.25" y1="245.20" x2="613.85" y2="245.20" stroke="#111" stroke-width="1.0"/>
<rect x="608.20" y="246.80" width="7.70" height="50.60" fill="#000"/>
<line x1="627.95" y1="194.10" x2="627.95" y2="220.10" stroke="#444" stroke-width="0.9"/>
<line x1="626.15" y1="194.10" x2="629.75" y2="194.10" stroke="#111" stroke-width="1.0"/>
<line x1="626.45" y1="220.10" x2="629.45" y2="220.10" stroke="#777" stroke-width="0.9"/>
<rect x="624.80" y="208.10" width="6.30" height="89.30" fill="none" stroke="#000" stroke-width="1.2"/>
<line x1="627.95" y1="207.50" x2="627.95" y2="220.10" stroke="#666" stroke-width="0.9"/>
<line x1="626.45" y1="220.10" x2="629.45" y2="220.10" stroke="#777" stroke-width="0.9"/>
<line x1="634.95" y1="193.60" x2="634.95" y2="208.20" stroke="#333" stroke-width="0.9"/>
<line x1="633.15" y1="193.60" x2="636.75" y2="193.60" stroke="#111" stroke-width="1.0"/>
<rect x="631.10" y="208.20" width="7.70" height="89.20" fill="#000"/>
<line x1="650.05" y1="176.80" x2="650.05" y2="224.60" stroke="#444" stroke-width="0.9"/>
<line x1="648.25" y1="176.80" x2="651.85" y2="176.80" stroke="#111" stroke-width="1.0"/>
<line x1="648.55" y1="224.60" x2="651.55" y2="224.60" stroke="#777" stroke-width="0.9"/>
<rect x="646.90" y="201.60" width="6.30" height="95.80" fill="none" stroke="#000" stroke-width="1.2"/>
<line x1="650.05" y1="201.00" x2="650.05" y2="224.60" stroke="#666" stroke-width="0.9"/>
<line x1="648.55" y1="224.60" x2="651.55" y2="224.60" stroke="#777" stroke-width="0.9"/>
<line x1="657.05" y1="217.20" x2="657.05" y2="232.40" stroke="#333" stroke-width="0.9"/>
<line x1="655.25" y1="217.20" x2="658.85" y2="217.20" stroke="#111" stroke-width="1.0"/>
<rect x="653.20" y="232.40" width="7.70" height="65.00" fill="#000"/>
<line x1="507.40" y1="167.90" x2="507.40" y2="298.20" stroke="#000" stroke-width="1.4"/>
<line x1="506.70" y1="297.40" x2="664.60" y2="297.40" stroke="#000" stroke-width="1.4"/>
<line x1="505.20" y1="297.40" x2="507.40" y2="297.40" stroke="#000" stroke-width="1.0"/>
<text x="502.80" y="299.20" font-size="7.5" text-anchor="end" fill="#222" textLength="3.72" lengthAdjust="spacingAndGlyphs" stroke="#222" stroke-width="0.05">0</text>
<line x1="505.20" y1="283.10" x2="507.40" y2="283.10" stroke="#000" stroke-width="1.0"/>
<text x="502.80" y="284.90" font-size="7.5" text-anchor="end" fill="#222" textLength="7.44" lengthAdjust="spacingAndGlyphs" stroke="#222" stroke-width="0.05">50</text>
<line x1="505.20" y1="268.80" x2="507.40" y2="268.80" stroke="#000" stroke-width="1.0"/>
<text x="502.80" y="270.60" font-size="7.5" text-anchor="end" fill="#222" textLength="11.16" lengthAdjust="spacingAndGlyphs" stroke="#222" stroke-width="0.05">100</text>
<line x1="505.20" y1="254.50" x2="507.40" y2="254.50" stroke="#000" stroke-width="1.0"/>
<text x="502.80" y="256.30" font-size="7.5" text-anchor="end" fill="#222" textLength="11.16" lengthAdjust="spacingAndGlyphs" stroke="#222" stroke-width="0.05">150</text>
<line x1="505.20" y1="240.20" x2="507.40" y2="240.20" stroke="#000" stroke-width="1.0"/>
<text x="502.80" y="242.00" font-size="7.5" text-anchor="end" fill="#222" textLength="11.16" lengthAdjust="spacingAndGlyphs" stroke="#222" stroke-width="0.05">200</text>
<line x1="505.20" y1="225.90" x2="507.40" y2="225.90" stroke="#000" stroke-width="1.0"/>
<text x="502.80" y="227.70" font-size="7.5" text-anchor="end" fill="#222" textLength="11.16" lengthAdjust="spacingAndGlyphs" stroke="#222" stroke-width="0.05">250</text>
<line x1="505.20" y1="211.60" x2="507.40" y2="211.60" stroke="#000" stroke-width="1.0"/>
<text x="502.80" y="213.40" font-size="7.5" text-anchor="end" fill="#222" textLength="11.16" lengthAdjust="spacingAndGlyphs" stroke="#222" stroke-width="0.05">300</text>
<line x1="505.20" y1="197.30" x2="507.40" y2="197.30" stroke="#000" stroke-width="1.0"/>
<text x="502.80" y="199.10" font-size="7.5" text-anchor="end" fill="#222" textLength="11.16" lengthAdjust="spacingAndGlyphs" stroke="#222" stroke-width="0.05">350</text>
<line x1="505.20" y1="183.00" x2="507.40" y2="183.00" stroke="#000" stroke-width="1.0"/>
<text x="502.80" y="184.80" font-size="7.5" text-anchor="end" fill="#222" textLength="11.16" lengthAdjust="spacingAndGlyphs" stroke="#222" stroke-width="0.05">400</text>
<line x1="505.20" y1="168.70" x2="507.40" y2="168.70" stroke="#000" stroke-width="1.0"/>
<text x="502.80" y="170.50" font-size="7.5" text-anchor="end" fill="#222" textLength="11.16" lengthAdjust="spacingAndGlyphs" stroke="#222" stroke-width="0.05">450</text>
<line x1="529.86" y1="297.40" x2="529.86" y2="299.20" stroke="#000" stroke-width="1.0"/>
<line x1="552.31" y1="297.40" x2="552.31" y2="299.20" stroke="#000" stroke-width="1.0"/>
<line x1="574.77" y1="297.40" x2="574.77" y2="299.20" stroke="#000" stroke-width="1.0"/>
<line x1="597.23" y1="297.40" x2="597.23" y2="299.20" stroke="#000" stroke-width="1.0"/>
<line x1="619.69" y1="297.40" x2="619.69" y2="299.20" stroke="#000" stroke-width="1.0"/>
<line x1="642.14" y1="297.40" x2="642.14" y2="299.20" stroke="#000" stroke-width="1.0"/>
<line x1="664.60" y1="297.40" x2="664.60" y2="299.20" stroke="#000" stroke-width="1.0"/>
<text x="521.50" y="306.20" font-size="8.1" text-anchor="end" fill="#111" transform="rotate(-29 521.50 306.20)" stroke="#111" stroke-width="0.2">LPS</text>
<text x="543.90" y="306.20" font-size="8.1" text-anchor="end" fill="#111" transform="rotate(-29 543.90 306.20)" stroke="#111" stroke-width="0.2">TNF-&#945;</text>
<text x="566.30" y="306.20" font-size="8.1" text-anchor="end" fill="#111" transform="rotate(-29 566.30 306.20)" stroke="#111" stroke-width="0.2">IL-1&#946;</text>
<text x="588.70" y="306.20" font-size="8.1" text-anchor="end" fill="#111" transform="rotate(-29 588.70 306.20)" stroke="#111" stroke-width="0.2">IFN-&#947;</text>
<text x="611.10" y="306.20" font-size="8.1" text-anchor="end" fill="#111" transform="rotate(-29 611.10 306.20)" stroke="#111" stroke-width="0.2">LPS + IFN-&#947;</text>
<text x="633.50" y="306.20" font-size="8.1" text-anchor="end" fill="#111" transform="rotate(-29 633.50 306.20)" stroke="#111" stroke-width="0.2">TNF-&#945; + IFN-&#947;</text>
<text x="655.90" y="306.20" font-size="8.1" text-anchor="end" fill="#111" transform="rotate(-29 655.90 306.20)" stroke="#111" stroke-width="0.2">TNF-&#945; + IL-1&#946; + IFN-&#947;</text>
<text x="605.20" y="227.90" font-size="10.0" text-anchor="middle" fill="#7a7a7a" font-family="Liberation Serif, Times New Roman, serif" letter-spacing="-0.4" stroke="#7a7a7a" stroke-width="0.15">***</text>
<text x="611.90" y="244.70" font-size="10.0" text-anchor="middle" fill="#7a7a7a" font-family="Liberation Serif, Times New Roman, serif" letter-spacing="-0.4" stroke="#7a7a7a" stroke-width="0.15">***</text>
<text x="627.00" y="195.00" font-size="10.0" text-anchor="middle" fill="#7a7a7a" font-family="Liberation Serif, Times New Roman, serif" letter-spacing="-0.4" stroke="#7a7a7a" stroke-width="0.15">**</text>
<text x="634.80" y="193.40" font-size="10.0" text-anchor="middle" fill="#7a7a7a" font-family="Liberation Serif, Times New Roman, serif" letter-spacing="-0.4" stroke="#7a7a7a" stroke-width="0.15">*</text>
<text x="650.00" y="177.70" font-size="10.0" text-anchor="middle" fill="#7a7a7a" font-family="Liberation Serif, Times New Roman, serif" letter-spacing="-0.4" stroke="#7a7a7a" stroke-width="0.15">*</text>
<rect x="515.10" y="170.30" width="3.20" height="3.20" fill="#fff" stroke="#000" stroke-width="1.0"/>
<rect x="514.60" y="177.50" width="4.20" height="4.20" fill="#000"/>
<text x="521.00" y="175.10" font-size="8.2" fill="#111" textLength="46.4" lengthAdjust="spacingAndGlyphs" stroke="#111" stroke-width="0.2">APP (mature)</text>
<text x="521.00" y="182.80" font-size="8.2" fill="#111" textLength="55.2" lengthAdjust="spacingAndGlyphs" stroke="#111" stroke-width="0.2">APP (immature)</text>
<text x="486.80" y="230.75" font-size="10.9" text-anchor="middle" fill="#111" transform="rotate(-90 486.80 230.75)" stroke="#111" stroke-width="0.1">APP protein (% of control)</text>
<text x="166.40" y="364.80" font-size="25" font-weight="bold" stroke="#000" stroke-width="0.2">D</text>
<line x1="233.70" y1="450.20" x2="233.70" y2="466.90" stroke="#000" stroke-width="1.6"/>
<line x1="228.30" y1="450.20" x2="239.10" y2="450.20" stroke="#000" stroke-width="1.6"/>
<rect x="228.60" y="459.20" width="10.60" height="120.10" fill="#fff" stroke="#000" stroke-width="1.5"/>
<line x1="233.70" y1="458.50" x2="233.70" y2="466.90" stroke="#000" stroke-width="1.6"/>
<line x1="228.30" y1="466.90" x2="239.10" y2="466.90" stroke="#000" stroke-width="1.6"/>
<line x1="257.25" y1="455.00" x2="257.25" y2="467.90" stroke="#000" stroke-width="1.6"/>
<line x1="251.85" y1="455.00" x2="262.65" y2="455.00" stroke="#000" stroke-width="1.6"/>
<rect x="252.00" y="461.70" width="10.90" height="117.60" fill="#fff" stroke="#000" stroke-width="1.5"/>
<line x1="257.25" y1="461.00" x2="257.25" y2="467.90" stroke="#000" stroke-width="1.6"/>
<line x1="251.85" y1="467.90" x2="262.65" y2="467.90" stroke="#000" stroke-width="1.6"/>
<line x1="280.90" y1="436.00" x2="280.90" y2="460.00" stroke="#000" stroke-width="1.6"/>
<line x1="275.50" y1="436.00" x2="286.30" y2="436.00" stroke="#000" stroke-width="1.6"/>
<rect x="275.90" y="448.40" width="10.40" height="130.90" fill="#fff" stroke="#000" stroke-width="1.5"/>
<line x1="280.90" y1="447.70" x2="280.90" y2="460.00" stroke="#000" stroke-width="1.6"/>
<line x1="275.50" y1="460.00" x2="286.30" y2="460.00" stroke="#000" stroke-width="1.6"/>
<line x1="334.75" y1="445.40" x2="334.75" y2="501.00" stroke="#000" stroke-width="1.6"/>
<line x1="329.35" y1="445.40" x2="340.15" y2="445.40" stroke="#000" stroke-width="1.6"/>
<rect x="329.70" y="473.40" width="10.50" height="105.90" fill="#979797" stroke="#000" stroke-width="1.5"/>
<line x1="334.75" y1="472.70" x2="334.75" y2="501.00" stroke="#000" stroke-width="1.6"/>
<line x1="329.35" y1="501.00" x2="340.15" y2="501.00" stroke="#000" stroke-width="1.6"/>
<line x1="358.20" y1="465.80" x2="358.20" y2="491.30" stroke="#000" stroke-width="1.6"/>
<line x1="352.80" y1="465.80" x2="363.60" y2="465.80" stroke="#000" stroke-width="1.6"/>
<rect x="353.30" y="479.70" width="10.20" height="99.60" fill="#979797" stroke="#000" stroke-width="1.5"/>
<line x1="358.20" y1="479.00" x2="358.20" y2="491.30" stroke="#000" stroke-width="1.6"/>
<line x1="352.80" y1="491.30" x2="363.60" y2="491.30" stroke="#000" stroke-width="1.6"/>
<line x1="381.95" y1="440.80" x2="381.95" y2="458.50" stroke="#000" stroke-width="1.6"/>
<line x1="376.55" y1="440.80" x2="387.35" y2="440.80" stroke="#000" stroke-width="1.6"/>
<rect x="377.10" y="449.90" width="10.10" height="129.40" fill="#979797" stroke="#000" stroke-width="1.5"/>
<line x1="381.95" y1="449.20" x2="381.95" y2="458.50" stroke="#000" stroke-width="1.6"/>
<line x1="376.55" y1="458.50" x2="387.35" y2="458.50" stroke="#000" stroke-width="1.6"/>
<line x1="435.40" y1="427.70" x2="435.40" y2="441.50" stroke="#000" stroke-width="1.6"/>
<line x1="430.00" y1="427.70" x2="440.80" y2="427.70" stroke="#000" stroke-width="1.6"/>
<rect x="429.70" y="442.20" width="11.80" height="137.10" fill="#000" stroke="#000" stroke-width="1.5"/>
<line x1="459.00" y1="441.90" x2="459.00" y2="452.30" stroke="#000" stroke-width="1.6"/>
<line x1="453.60" y1="441.90" x2="464.40" y2="441.90" stroke="#000" stroke-width="1.6"/>
<rect x="453.50" y="453.00" width="11.40" height="126.30" fill="#000" stroke="#000" stroke-width="1.5"/>
<line x1="483.35" y1="405.80" x2="483.35" y2="414.80" stroke="#000" stroke-width="1.6"/>
<line x1="477.95" y1="405.80" x2="488.75" y2="405.80" stroke="#000" stroke-width="1.6"/>
<rect x="477.70" y="415.50" width="11.70" height="163.80" fill="#000" stroke="#000" stroke-width="1.5"/>
<rect x="219.60" y="374.60" width="275.70" height="204.70" fill="none" stroke="#000" stroke-width="1.6"/>
<line x1="215.30" y1="579.30" x2="219.60" y2="579.30" stroke="#000" stroke-width="1.4"/>
<text x="213.30" y="583.40" font-size="11" text-anchor="end" stroke="#000" stroke-width="0.05">0</text>
<line x1="215.30" y1="556.56" x2="219.60" y2="556.56" stroke="#000" stroke-width="1.4"/>
<text x="213.30" y="560.66" font-size="11" text-anchor="end" stroke="#000" stroke-width="0.05">20</text>
<line x1="215.30" y1="533.81" x2="219.60" y2="533.81" stroke="#000" stroke-width="1.4"/>
<text x="213.30" y="537.91" font-size="11" text-anchor="end" stroke="#000" stroke-width="0.05">40</text>
<line x1="215.30" y1="511.07" x2="219.60" y2="511.07" stroke="#000" stroke-width="1.4"/>
<text x="213.30" y="515.17" font-size="11" text-anchor="end" stroke="#000" stroke-width="0.05">60</text>
<line x1="215.30" y1="488.32" x2="219.60" y2="488.32" stroke="#000" stroke-width="1.4"/>
<text x="213.30" y="492.42" font-size="11" text-anchor="end" stroke="#000" stroke-width="0.05">80</text>
<line x1="215.30" y1="465.58" x2="219.60" y2="465.58" stroke="#000" stroke-width="1.4"/>
<text x="211.50" y="469.68" font-size="11" text-anchor="end" stroke="#000" stroke-width="0.05">100</text>
<line x1="215.30" y1="442.83" x2="219.60" y2="442.83" stroke="#000" stroke-width="1.4"/>
<text x="211.50" y="446.93" font-size="11" text-anchor="end" stroke="#000" stroke-width="0.05">120</text>
<line x1="215.30" y1="420.09" x2="219.60" y2="420.09" stroke="#000" stroke-width="1.4"/>
<text x="211.50" y="424.19" font-size="11" text-anchor="end" stroke="#000" stroke-width="0.05">140</text>
<line x1="215.30" y1="397.34" x2="219.60" y2="397.34" stroke="#000" stroke-width="1.4"/>
<text x="211.50" y="401.44" font-size="11" text-anchor="end" stroke="#000" stroke-width="0.05">160</text>
<line x1="215.30" y1="374.60" x2="219.60" y2="374.60" stroke="#000" stroke-width="1.4"/>
<text x="211.50" y="378.70" font-size="11" text-anchor="end" stroke="#000" stroke-width="0.05">180</text>
<line x1="245.70" y1="579.30" x2="245.70" y2="581.60" stroke="#000" stroke-width="1.3"/>
<line x1="269.60" y1="579.30" x2="269.60" y2="581.60" stroke="#000" stroke-width="1.3"/>
<line x1="293.30" y1="579.30" x2="293.30" y2="581.60" stroke="#000" stroke-width="1.3"/>
<line x1="323.00" y1="579.30" x2="323.00" y2="581.60" stroke="#000" stroke-width="1.3"/>
<line x1="347.30" y1="579.30" x2="347.30" y2="581.60" stroke="#000" stroke-width="1.3"/>
<line x1="369.40" y1="579.30" x2="369.40" y2="581.60" stroke="#000" stroke-width="1.3"/>
<line x1="393.70" y1="579.30" x2="393.70" y2="581.60" stroke="#000" stroke-width="1.3"/>
<line x1="423.80" y1="579.30" x2="423.80" y2="581.60" stroke="#000" stroke-width="1.3"/>
<line x1="447.10" y1="579.30" x2="447.10" y2="581.60" stroke="#000" stroke-width="1.3"/>
<line x1="471.00" y1="579.30" x2="471.00" y2="581.60" stroke="#000" stroke-width="1.3"/>
<text x="257.20" y="391.90" font-size="14" font-weight="bold" text-anchor="middle" stroke="#000" stroke-width="0.2">6 h</text>
<text x="358.70" y="391.90" font-size="14" font-weight="bold" text-anchor="middle" stroke="#000" stroke-width="0.2">24 h</text>
<text x="459.60" y="391.90" font-size="14" font-weight="bold" text-anchor="middle" stroke="#000" stroke-width="0.2">96 h</text>
<text x="483.00" y="404.50" font-size="14" text-anchor="middle" fill="#555555" font-family="Liberation Serif, Times New Roman, serif" stroke="#555555" stroke-width="0.2">*</text>
<text x="186.40" y="477.90" font-size="14.2" text-anchor="middle" transform="rotate(-90 186.40 477.90)" stroke="#000" stroke-width="0.05">APP mRNA (% of control)</text>
<text x="236.50" y="588.30" font-size="10.6" text-anchor="end" transform="rotate(-30 236.50 588.30)">TNF-&#945;</text>
<text x="260.05" y="588.30" font-size="10.6" text-anchor="end" transform="rotate(-30 260.05 588.30)">IFN-&#947;</text>
<text x="283.70" y="588.30" font-size="10.6" text-anchor="end" transform="rotate(-30 283.70 588.30)">TNF-&#945; + IFN-&#947;</text>
<text x="338.95" y="588.30" font-size="10.6" text-anchor="end" transform="rotate(-30 338.95 588.30)">TNF-&#945;</text>
<text x="362.40" y="588.30" font-size="10.6" text-anchor="end" transform="rotate(-30 362.40 588.30)">IFN-&#947;</text>
<text x="386.15" y="588.30" font-size="10.6" text-anchor="end" transform="rotate(-30 386.15 588.30)">TNF-&#945; + IFN-&#947;</text>
<text x="440.20" y="588.30" font-size="10.6" text-anchor="end" transform="rotate(-30 440.20 588.30)">TNF-&#945;</text>
<text x="463.80" y="588.30" font-size="10.6" text-anchor="end" transform="rotate(-30 463.80 588.30)">IFN-&#947;</text>
<text x="488.15" y="588.30" font-size="10.6" text-anchor="end" transform="rotate(-30 488.15 588.30)">TNF-&#945; + IFN-&#947;</text>
</svg>
</body></html>
